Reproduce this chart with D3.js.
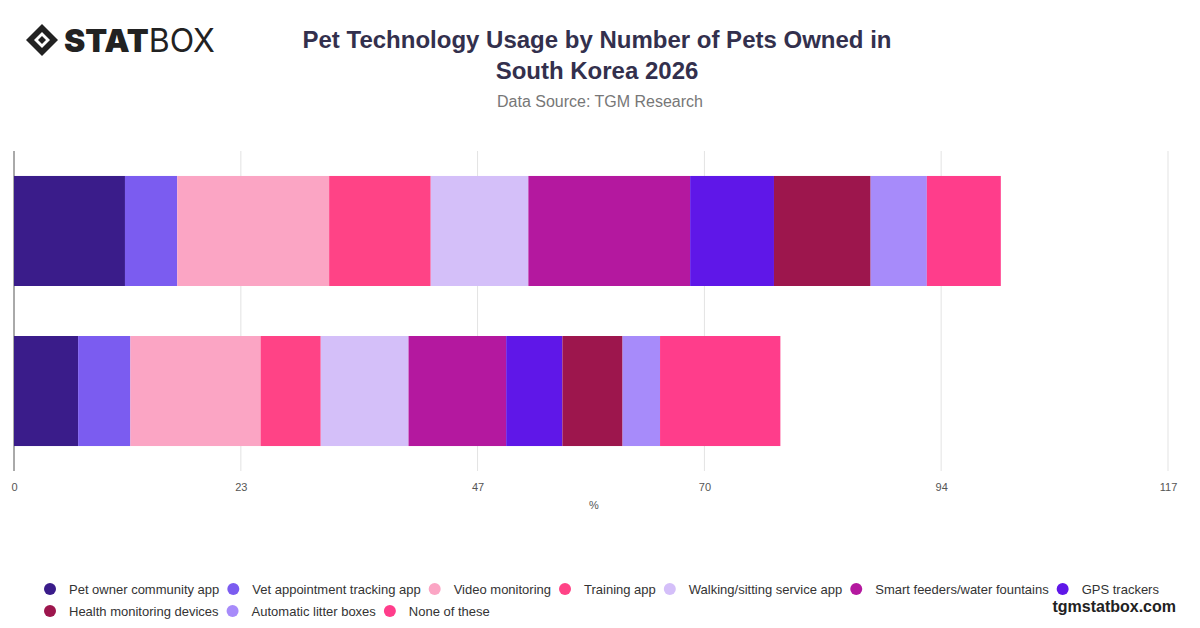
<!DOCTYPE html>
<html><head><meta charset="utf-8">
<script src="https://cdn.jsdelivr.net/npm/d3@7"></script>
<style>body{margin:0;background:#fff;font-family:"Liberation Sans",Arial,sans-serif}</style>
</head><body><svg id="c" width="1200" height="628"></svg>
<script>
var categories = ["1 pet", "2+ pets"];
var series = ["Pet owner community app","Vet appointment tracking app","Video monitoring","Training app","Walking/sitting service app","Smart feeders/water fountains","GPS trackers","Health monitoring devices","Automatic litter boxes","None of these"];
var colors = ["#3a1c8a","#7b5cf0","#fba5c4","#ff4386","#d4bff9","#b4189f","#5f17e8","#9d164d","#a78bfa","#ff3d8b"];
var values = [
  [11.25,5.3,15.4,10.3,9.9,16.4,8.5,9.8,5.7,7.5],
  [6.5,5.3,13.2,6.1,8.9,9.9,5.7,6.1,3.8,12.2]
];
var ticks = [0,23,47,70,94,117];

var svg = d3.select("#c");
// logo
var logo = svg.append("g").attr("transform","translate(26,24)");
logo.append("path").attr("d","M16,0 L32,16 L16,32 L0,16 Z").attr("fill","#222");
logo.append("path").attr("d","M16,8 L24,16 L16,24 L8,16 Z").attr("fill","#fff");
logo.append("path").attr("d","M16,12 L20,16 L16,20 L12,16 Z").attr("fill","#222");
var lt = logo.append("text").attr("x",38).attr("y",28).attr("font-size",32).attr("fill","#222").attr("font-family","Inter,sans-serif");
lt.append("tspan").attr("font-weight",900).text("STAT");
lt.append("tspan").attr("font-weight",400).text("BOX");

svg.append("text").attr("x",597).attr("y",48).attr("text-anchor","middle").attr("font-size",24).attr("font-weight",700).attr("fill","#33304d").text("Pet Technology Usage by Number of Pets Owned in");
svg.append("text").attr("x",597).attr("y",79).attr("text-anchor","middle").attr("font-size",24).attr("font-weight",700).attr("fill","#33304d").text("South Korea 2026");
svg.append("text").attr("x",600).attr("y",107).attr("text-anchor","middle").attr("font-size",16).attr("fill","#777").text("Data Source: TGM Research");

var x = d3.scaleLinear().domain([0,117]).range([14,1168]);
var y = d3.scaleBand().domain(categories).range([151,471]).paddingInner(0.3125).paddingOuter(0.156);

svg.append("g").selectAll("line").data(ticks.slice(1)).join("line")
  .attr("x1",d=>x(d)).attr("x2",d=>x(d)).attr("y1",151).attr("y2",471).attr("stroke","#e3e3e3");
svg.append("line").attr("x1",14).attr("x2",14).attr("y1",151).attr("y2",471).attr("stroke","#555");

values.forEach(function(row,i){
  var acc=0;
  row.forEach(function(v,j){
    svg.append("rect").attr("x",x(acc)).attr("width",x(acc+v)-x(acc))
      .attr("y",y(categories[i])).attr("height",y.bandwidth()).attr("fill",colors[j]);
    acc+=v;
  });
});

var ax = svg.append("g").attr("transform","translate(0,471)")
  .call(d3.axisBottom(x).tickValues(ticks).tickSize(0).tickPadding(12));
ax.select(".domain").remove();
ax.selectAll("text").attr("font-size",11).attr("fill","#555").attr("font-family","Liberation Sans,Arial,sans-serif");
svg.append("text").attr("x",594).attr("y",509).attr("text-anchor","middle").attr("font-size",11).attr("fill","#555").text("%");

// legend
var rows=[[0,1,2,3,4,5,6],[7,8,9]];
rows.forEach(function(r,ri){
  var cx=50;
  r.forEach(function(j){
    var g=svg.append("g").attr("transform","translate("+cx+","+(589+ri*22)+")");
    g.append("circle").attr("r",6).attr("fill",colors[j]);
    var t=g.append("text").attr("x",19).attr("y",5).attr("font-size",13).attr("fill","#333").text(series[j]);
    cx+=19+t.node().getComputedTextLength()+14;
  });
});
svg.append("text").attr("x",1176).attr("y",612).attr("text-anchor","end").attr("font-size",16).attr("font-weight",700).attr("fill","#222").text("tgmstatbox.com");
</script></body></html>
